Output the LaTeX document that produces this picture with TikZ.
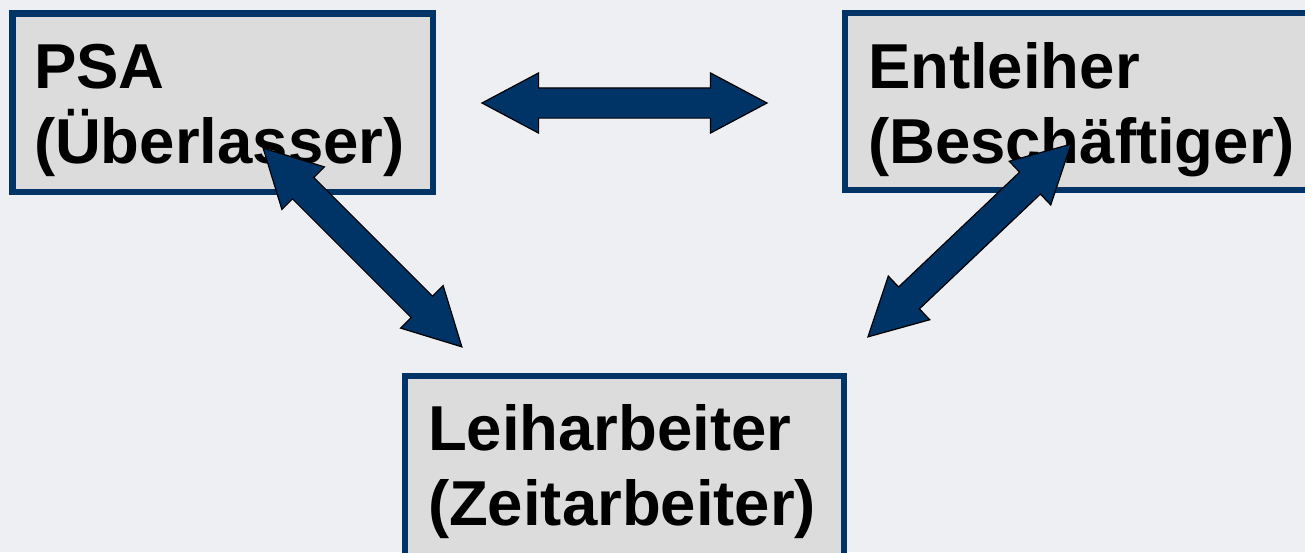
\documentclass[tikz,border=0pt]{standalone}
\usepackage{fontspec}
\setmainfont{Liberation Sans}
\usetikzlibrary{shapes.arrows}
\definecolor{navy}{HTML}{003366}
\definecolor{boxgray}{HTML}{DCDCDC}
\definecolor{marble}{HTML}{EEEFF2}
\begin{document}
\begin{tikzpicture}[x=1pt,y=-1pt]
        \useasboundingbox (0,0) rectangle (1305,552);
        \fill[marble] (0,0) rectangle (1305,552);
        \clip (0,0) rectangle (1305,552);
        \begin{scope}[every node/.style={rectangle,draw=navy,line width=6.5pt,fill=boxgray,
            anchor=north west,align=left,inner ysep=0pt,outer sep=0pt,
            font=\fontsize{63.5}{75}\selectfont\bfseries}]
          \node[inner xsep=21.5pt,text width=377.5pt,text height=74.7pt,text depth=104pt] (P) at (12.5,13.3) {PSA\\(Überlasser)};
          \node[inner xsep=23pt,text width=440pt,text height=75pt,text depth=102pt]      (E) at (845,13)   {Entleiher\\(Beschäftiger)};
          \node[inner xsep=23pt,text width=393pt,text height=74pt,text depth=150pt]      (L) at (405,376)  {Leiharbeiter\\(Zeitarbeiter)};
        \end{scope}
        \begin{scope}[every node/.style={double arrow,draw=black,line width=1.2pt,fill=navy,
            text height=14.5pt,text depth=14.5pt,minimum width=60pt,
            double arrow head extend=15pt,double arrow tip angle=56,
            inner sep=0pt,outer sep=0pt}]
          \node[minimum height=285pt]             (PE) at (624.5,103)   {};
          \node[rotate=-45,minimum height=281pt]  (PL) at (362.5,247.5) {};
          \node[rotate=43.5,minimum height=280pt] (LE) at (969.5,240.5) {};
        \end{scope}
      \end{tikzpicture}
\end{document}
